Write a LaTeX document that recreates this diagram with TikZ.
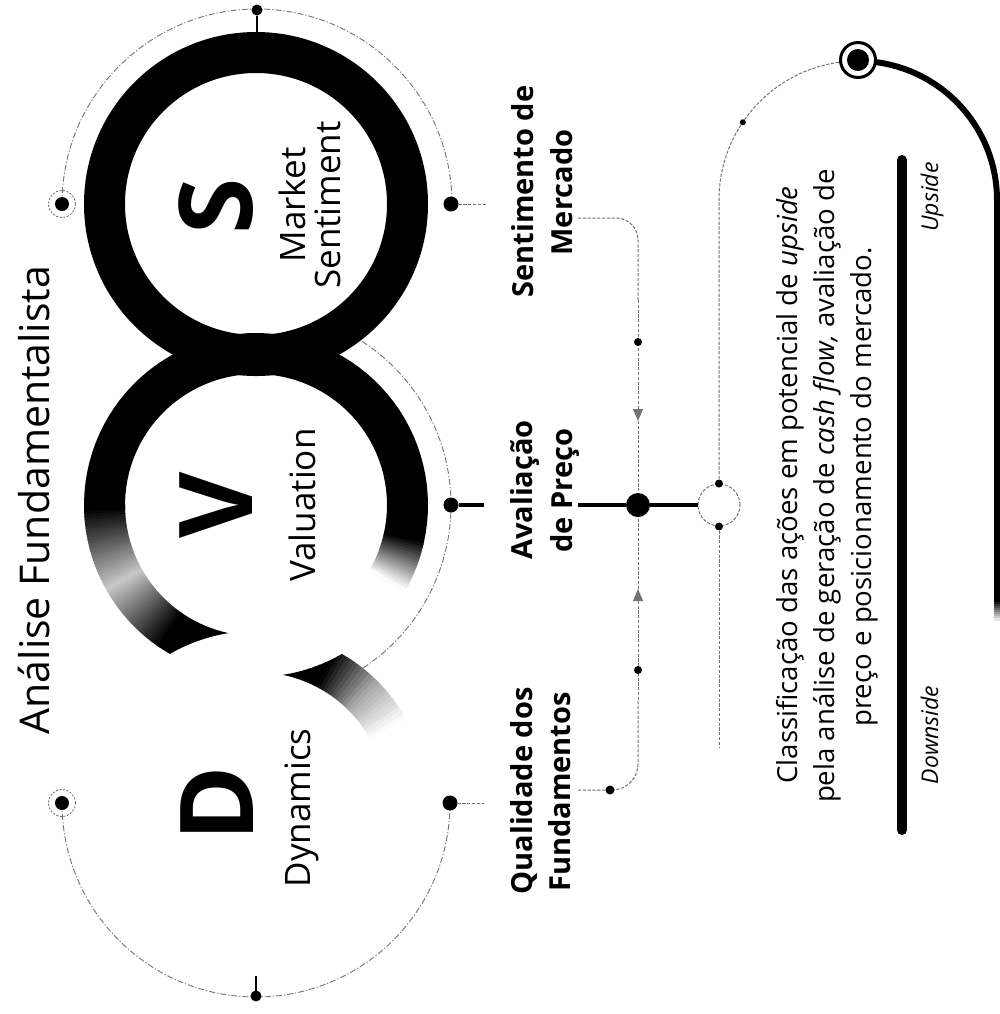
\documentclass[tikz,border=0pt]{standalone}
\usepackage{fontspec}
\setmainfont{Open Sans}
\usetikzlibrary{arrows.meta}
\newcommand{\annsec}[8]{%
  \fill[#7] plot[domain=0:1,samples=#8,variable=\t]
    ({#1+#4*cos((#5)+((#6)-(#5))*\t)},{#2+#4*sin((#5)+((#6)-(#5))*\t)})
   -- plot[domain=0:1,samples=#8,variable=\t]
    ({#1+#3*cos((#6)+((#5)-(#6))*\t)},{#2+#3*sin((#6)+((#5)-(#6))*\t)}) -- cycle;}
\tikzset{
  rot/.style={rotate=90, anchor=base, inner sep=0pt, outer sep=0pt},
  dot/.style={circle, fill=black, inner sep=0pt, outer sep=0pt, minimum size=#1},
  dashring/.style={circle, draw=black!60, dash pattern=on 1pt off 0.8pt, line width=0.4pt, inner sep=0pt, minimum size=#1},
  arcline/.style={draw=black!55, line width=0.45pt, dash pattern=on 3pt off 1pt on 0.6pt off 1pt},
  conn/.style={draw=black!55, line width=0.5pt, dash pattern=on 1.6pt off 0.8pt},
  boldline/.style={draw=black, line width=2.2pt},
  tip/.style={-{Triangle[width=5pt,length=6pt]}},
  big/.style={font=\bfseries\fontsize{51}{56}\selectfont},
  sub/.style={font=\fontsize{17.5}{20}\selectfont},
  lab/.style={font=\bfseries\fontsize{14.5}{17}\selectfont},
  desc/.style={font=\fontsize{13.8}{16}\selectfont},
  side/.style={font=\itshape\fontsize{11.5}{14}\selectfont}
}
\begin{document}
\begin{tikzpicture}[x=0.5pt,y=-0.5pt]
\fill[white] (0,0) rectangle (1000,1014);
\useasboundingbox (0,0) rectangle (1000,1014);

% ---- V ring (gradient) ----
\annsec{256}{505}{131}{172}{90}{125}{black}{20}
\foreach \i in {0,...,55}{%
  \pgfmathsetmacro\aa{124+\i}
  \pgfmathsetmacro\bb{125.5+\i}
  \pgfmathsetmacro\gg{\aa<150 ? 22+78*(150-\aa)/26 : 22+78*(\aa-150)/28}
  \pgfmathtruncatemacro\g{min(100,\gg)}
  \annsec{256}{505}{131}{172}{\aa}{\bb}{black!\g}{3}}
\annsec{256}{505}{131}{172}{178}{373}{black}{60}
\foreach \i in {0,...,17}{%
  \pgfmathsetmacro\aa{372+\i}
  \pgfmathsetmacro\bb{373.5+\i}
  \pgfmathtruncatemacro\g{max(0,100-\i*5.8)}
  \annsec{256}{505}{131}{172}{\aa}{\bb}{black!\g}{3}}
% ---- D ring: white, with dark cusp ----
\fill[white] (256,803) circle (172);
\begin{scope}
\clip ({256+172*cos(80.9)},{505+172*sin(80.9)}) arc[start angle=80.9, end angle=60, radius=172]
  arc[start angle=-60, end angle=-5, radius=172] -- ({256+131*cos(-5)},{803+131*sin(-5)})
  arc[start angle=-5, end angle=-78, radius=131] -- cycle;
\foreach \i in {0,...,40}{%
  \pgfmathsetmacro\aa{-82+1.5*\i}
  \pgfmathsetmacro\bb{\aa+1.8}
  \pgfmathsetmacro\gg{\aa<-63 ? 100 : (\aa<-46 ? 100-65*(\aa+63)/17 : max(0,35*(-30-\aa)/16))}
  \pgfmathtruncatemacro\g{\gg}
  \annsec{256}{803}{129}{174}{\aa}{\bb}{black!\g}{3}}
\end{scope}
% ---- S ring ----
\fill[black, even odd rule] (256,204) circle (172) (256,204) circle (131);

% ---- dashed orbit arcs ----
\coordinate (sLc) at (62,204);
\coordinate (vAs) at ({256+195*cos(-57)},{505+195*sin(-57)});
\coordinate (dLc) at (62,803);
\draw[arcline] (sLc) arc[start angle=180, end angle=360, radius=195];
\draw[arcline] (vAs) arc[start angle=-57, end angle=57, radius=195];
\draw[arcline] (dLc) arc[start angle=180, end angle=0, radius=194];

% S dots
\node[dot=7pt] (sL) at (sLc) {};
\node[dashring=13.5pt] (sLr) at (sLc) {};
\node[dot=5.5pt] (sT) at (257,10) {};
\coordinate (sRingTop) at (257,33);
\draw[black, line width=0.6pt] (sT) -- (sRingTop);
\node[dot=7.5pt] (sR) at (451,204) {};
\coordinate (sRe) at (486,204);
\draw[conn] (sR) -- (sRe);
% V dots
\node[dot=7.5pt] (vR) at (451,505) {};
\coordinate (vRe) at (484,505);
\draw[black, line width=2pt] (vR) -- (vRe);
% D dots
\node[dot=7pt] (dL) at (dLc) {};
\node[dashring=13.5pt] (dLr) at (dLc) {};
\node[dot=5.5pt] (dB) at (256,996) {};
\coordinate (dRingBot) at (256,976);
\draw[black, line width=0.6pt] (dB) -- (dRingBot);
\node[dot=7.5pt] (dR) at (450,803) {};
\coordinate (dRe) at (484,803);
\draw[conn] (dR) -- (dRe);

% ---- ring letters and names ----
\node[rot, font=\fontsize{20.5}{24}\selectfont] (title) at (49,500) {Análise Fundamentalista};
\node[rot, big] (letS) at (252,206) {S};
\node[rot, big] (letV) at (252,505) {V};
\node[rot, big] (letD) at (253,804) {D};
\node[rot, sub] (mk1) at (305,205) {Market};
\node[rot, sub] (mk2) at (340,205) {Sentiment};
\node[rot, sub] (val) at (315,505) {Valuation};
\node[rot, sub] (dyn) at (310,808) {Dynamics};

% ---- labels ----
\node[rot, lab] (sm1) at (533,191.5) {Sentimento de};
\node[rot, lab] (sm2) at (572,192.5) {Mercado};
\node[rot, lab] (ap1) at (532,490) {Avaliação};
\node[rot, lab] (ap2) at (572,490.5) {de Preço};
\node[rot, lab] (qf1) at (532,791) {Qualidade dos};
\node[rot, lab] (qf2) at (570,792) {Fundamentos};

% ---- central connectors ----
\node[dot=12pt] (cdot) at (638,505) {};
\coordinate (smStart) at (578,218);
\coordinate (smCorner) at (638,218);
\coordinate (arrTop) at (638,421);
\coordinate (qfStart) at (578,790);
\coordinate (qfCorner) at (638,790);
\coordinate (arrBot) at (638,589);
\coordinate (apStart) at (578,505);
\draw[conn, rounded corners=11pt] (smStart) -- (smCorner) -- (638,300);
\draw[conn, tip] (638,300) -- (arrTop);
\draw[conn] (arrTop) -- (cdot);
\draw[conn, rounded corners=13pt] (qfStart) -- (qfCorner) -- (638,700);
\draw[conn, tip] (638,700) -- (arrBot);
\draw[conn] (arrBot) -- (cdot);
\node[dot=4pt] (tdot) at (638,342) {};
\node[dot=4pt] (bdot) at (638,670) {};
\node[dot=4.5pt] (qdot) at (610,790) {};

% ---- right structure ----
\node[circle, conn, minimum size=21pt, inner sep=0pt] (smallc) at (719,505) {};
\node[dot=4pt] (scTop) at (smallc.north) {};
\node[dot=4pt] (scBot) at (smallc.south) {};
\draw[boldline] (apStart) -- (cdot) -- (smallc.west);
\coordinate (rTop) at (858,61);
\coordinate (rFadeStart) at (997,600);
\coordinate (rEnd) at (719,747);
\draw[conn] (rTop) arc[start angle=-90, end angle=-180, radius=139] -- (scTop);
\draw[conn] (scBot) -- (rEnd);
\draw[black, line width=3pt] (rTop) arc[start angle=-90, end angle=0, radius=139] -- (rFadeStart);
\foreach \i in {0,...,9}{%
  \pgfmathtruncatemacro\g{100-\i*10}
  \draw[black!\g, line width=3pt] (997,{600+2*\i}) -- (997,{602.5+2*\i});}
\node[dot=3pt] (adot) at ({858+139*cos(-146)},{200+139*sin(-146)}) {};
\node[circle, draw=black, line width=1.5pt, fill=white, minimum size=17.5pt, inner sep=0pt] (bigring) at (858,60) {};
\node[dot=11pt] (bigdot) at (858,60) {};

% ---- description ----
\node[rot, desc] (d1) at (797,485) {Classificação das ações em potencial de \textit{upside}};
\node[rot, desc] (d2) at (834,486) {pela análise de geração de \textit{cash flow,} avaliação de};
\node[rot, desc] (d3) at (871,487) {preço e posicionamento do mercado.};

% ---- scale bar ----
\coordinate (barTop) at (902,160);
\coordinate (barBot) at (902,830);
\draw[black, line width=5pt, line cap=round] (barTop) -- (barBot);
\node[rot, side] (down) at (938,735) {Downside};
\node[rot, side] (up) at (938,197) {Upside};
\end{tikzpicture}
\end{document}
